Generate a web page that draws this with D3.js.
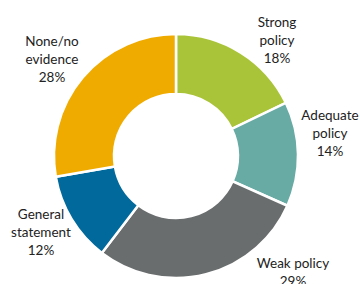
<!DOCTYPE html>
<html><head><meta charset="utf-8">
<script src="https://cdn.jsdelivr.net/npm/d3@7"></script>
<style>html,body{margin:0;padding:0;background:#fff;}svg{display:block;}</style>
</head><body>
<svg id="chart" width="360" height="284"></svg>
<script>
const categories = ["Strong policy", "Adequate policy", "Weak policy", "General statement", "None/no evidence"];
const values = [18, 14, 29, 12, 28];
const labelLines = [["Strong", "policy"], ["Adequate", "policy"], ["Weak policy"], ["General", "statement"], ["None/no", "evidence"]];
const colors = ["#AAC43A", "#68AAA4", "#6A6D6E", "#01699B", "#F0AB00"];

// label anchor layout (centre x, first-line centre y)
const labelLayout = [[277, 22], [330, 115], [293, 263], [41, 214], [52, 41]];

const W = 360, H = 284, cx = 176, cy = 156, R = 122, r = 62;
const svg = d3.select("#chart");
const g = svg.append("g").attr("transform", `translate(${cx},${cy})`);
const pie = d3.pie().sort(null).value(d => d);
const arc = d3.arc().innerRadius(r).outerRadius(R);
const arcs = pie(values);
g.selectAll("path").data(arcs).join("path")
  .attr("d", arc)
  .attr("fill", (d, i) => colors[i])
  .attr("stroke", "#fff").attr("stroke-width", 2.5).attr("stroke-linejoin", "miter");

const lh = 18;
arcs.forEach((d, i) => {
  const [x, y] = labelLayout[i];
  const lines = labelLines[i].concat([values[i] + "%"]);
  const t = svg.append("text").attr("text-anchor", "middle")
    .attr("font-family", "Lato, 'Open Sans', sans-serif").attr("font-size", 13.5).attr("fill", "#222");
  lines.forEach((s, j) => {
    t.append("tspan").attr("x", x).attr("y", y + j * lh).attr("dy", "0.35em").text(s);
  });
});
</script>
</body></html>
